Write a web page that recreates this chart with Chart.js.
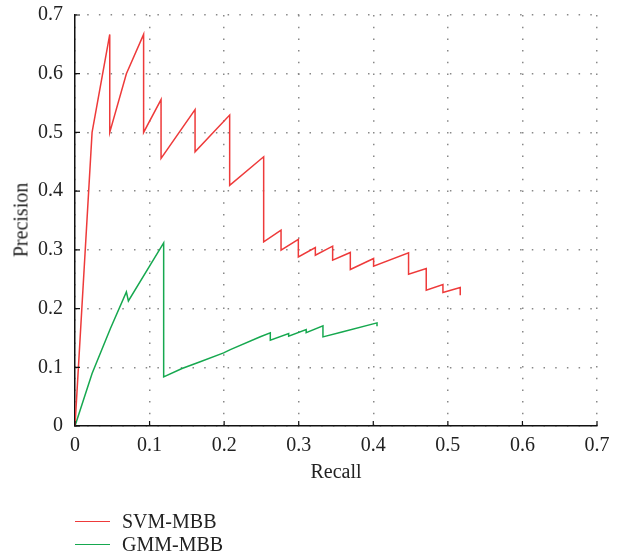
<!DOCTYPE html>
<html>
<head>
<meta charset="utf-8">
<script src="https://cdn.jsdelivr.net/npm/chart.js@4/dist/chart.umd.min.js"></script>
<style>
  html, body { margin: 0; padding: 0; background: #fff; }
  #wrap { position: relative; width: 623px; height: 560px; font-family: "Liberation Serif", "DejaVu Serif", serif; color: #222; }
  #c { position: absolute; left: 0; top: 0; }
  .lbl { position: absolute; font-size: 20px; white-space: nowrap; }
  #xt { left: 336px; top: 471px; transform: translate(-50%, -50%); }
  #yt { left: 21px; top: 220px; transform: translate(-50%, -50%) rotate(-90deg); }
  .leg { position: absolute; left: 75px; height: 20px; font-size: 20px; display: flex; align-items: center; }
  .leg span.sw { display: inline-block; width: 35px; height: 0; border-top: 1.5px solid; margin-right: 12px; }
</style>
</head>
<body>
<div id="wrap">
  <canvas id="c" width="623" height="560"></canvas>
  <div class="lbl" id="xt">Recall</div>
  <div class="lbl" id="yt">Precision</div>
  <div class="leg" style="top:511px;"><span class="sw" style="border-color:#ee3a3a"></span>SVM-MBB</div>
  <div class="leg" style="top:534px;"><span class="sw" style="border-color:#16a84f"></span>GMM-MBB</div>
</div>
<script>
const seriesNames = ["SVM-MBB", "GMM-MBB"];
const tickValues = [0, 0.1, 0.2, 0.3, 0.4, 0.5, 0.6, 0.7];

const svmRecall = [0, 0.0229, 0.0466, 0.0466, 0.0689, 0.092, 0.092, 0.1154, 0.1154, 0.161, 0.161, 0.2074, 0.2074, 0.253, 0.253, 0.2763, 0.2763, 0.2995, 0.2995, 0.3223, 0.3223, 0.3455, 0.3455, 0.3692, 0.3692, 0.4004, 0.4004, 0.4473, 0.4473, 0.471, 0.471, 0.4934, 0.4934, 0.5166, 0.5166];
const svmPrecision = [0, 0.5, 0.667, 0.5, 0.6, 0.667, 0.5, 0.556, 0.4557, 0.539, 0.467, 0.5295, 0.41, 0.4585, 0.3137, 0.3336, 0.2995, 0.3177, 0.288, 0.304, 0.291, 0.3063, 0.2825, 0.2956, 0.2666, 0.2853, 0.2722, 0.2949, 0.2586, 0.2683, 0.2313, 0.241, 0.2274, 0.236, 0.2228];

const gmmRecall = [0, 0.0229, 0.0475, 0.0689, 0.0716, 0.1189, 0.1189, 0.1435, 0.167, 0.1993, 0.2083, 0.2485, 0.2619, 0.2619, 0.2865, 0.2865, 0.310, 0.310, 0.3325, 0.3325, 0.358, 0.405, 0.405];
const gmmPrecision = [0, 0.0894, 0.166, 0.2285, 0.213, 0.312, 0.0837, 0.098, 0.109, 0.1246, 0.130, 0.152, 0.1586, 0.146, 0.1575, 0.153, 0.1644, 0.159, 0.1705, 0.1518, 0.160, 0.1756, 0.170];

function pts(xs, ys) { return xs.map((x, i) => ({ x: x, y: ys[i] })); }

const innerTicks = {
  id: 'innerTicks',
  afterDraw(chart) {
    const ctx = chart.ctx, xs = chart.scales.x, ys = chart.scales.y, a = chart.chartArea;
    ctx.save();
    ctx.strokeStyle = '#111';
    ctx.lineWidth = 1.2;
    ctx.beginPath();
    tickValues.forEach(v => {
      const px = xs.getPixelForValue(v);
      ctx.moveTo(px, a.bottom); ctx.lineTo(px, a.bottom - 5);
      const py = ys.getPixelForValue(v);
      ctx.moveTo(a.left, py); ctx.lineTo(a.left + 5, py);
    });
    ctx.stroke();
    ctx.restore();
  }
};

const tickFont = { family: '"Liberation Serif", "DejaVu Serif", serif', size: 20 };
function fmt(v) { return v === 0 ? '0' : v.toFixed(1); }

new Chart(document.getElementById('c'), {
  type: 'scatter',
  data: {
    datasets: [
      { label: seriesNames[0], data: pts(svmRecall, svmPrecision), showLine: true, borderColor: '#ee3a3a', borderWidth: 1.5, pointRadius: 0, tension: 0, fill: false },
      { label: seriesNames[1], data: pts(gmmRecall, gmmPrecision), showLine: true, borderColor: '#16a84f', borderWidth: 1.5, pointRadius: 0, tension: 0, fill: false }
    ]
  },
  options: {
    responsive: false,
    animation: false,
    devicePixelRatio: 1,
    layout: { padding: { left: 0, right: 26, top: 15, bottom: 0 } },
    plugins: { legend: { display: false }, tooltip: { enabled: false } },
    scales: {
      x: {
        type: 'linear', min: 0, max: 0.7,
        afterBuildTicks: s => { s.ticks = tickValues.map(v => ({ value: v })); },
        afterFit: s => { s.height = 134; s.paddingLeft = 0; s.paddingRight = 0; },
        ticks: { font: tickFont, color: '#222', padding: 8, callback: fmt, maxRotation: 0 },
        grid: { color: '#888', lineWidth: 1.5, drawTicks: false },
        border: { display: true, color: '#111', width: 1.5, dash: [1.5, 10.2] }
      },
      y: {
        type: 'linear', min: 0, max: 0.7,
        afterBuildTicks: s => { s.ticks = tickValues.map(v => ({ value: v })); },
        afterFit: s => { s.width = 75; s.paddingTop = 0; s.paddingBottom = 0; },
        ticks: { font: tickFont, color: '#222', padding: 12, callback: fmt },
        grid: { color: '#888', lineWidth: 1.5, drawTicks: false },
        border: { display: true, color: '#111', width: 1.5, dash: [1.5, 10.2] }
      }
    }
  },
  plugins: [innerTicks]
});
</script>
</body>
</html>
